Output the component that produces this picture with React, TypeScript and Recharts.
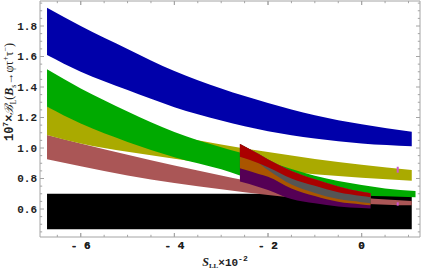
import React from 'react';
import { ComposedChart, Area, XAxis, YAxis, ReferenceLine } from 'recharts';

// ---- data (S_LL x 10^-2 on x, 10^7 x B_L on y) ----
const blueS = [-6.72, -6, -5, -4, -3, -2, -1, 0, 1.07];
const blueHi = [1.92, 1.80, 1.65, 1.505, 1.39, 1.295, 1.215, 1.155, 1.107];
const blueLo = [1.61, 1.50, 1.38, 1.268, 1.18, 1.11, 1.062, 1.03, 1.012];

const greenS = [-6.72, -6, -5, -4, -3, -2.6, -2, -1.5, -1, 0, 0.5, 1.15];
const greenHi = [1.516, 1.39, 1.24, 1.105, 1.005, 0.97, 0.912, 0.862, 0.818, 0.757, 0.735, 0.718];
const greenLo = [1.27, 1.16, 1.04, 0.94, 0.86, 0.82, 0.78, 0.755, 0.73, 0.69, 0.683, 0.677];

const yellowS = [-6.72, -6, -5, -4, -3, -2, -1, 0, 1.07];
const yellowHi = [1.27, 1.205, 1.135, 1.078, 1.023, 0.973, 0.928, 0.89, 0.856];
const yellowLo = [1.085, 1.03, 0.975, 0.93, 0.89, 0.857, 0.828, 0.805, 0.786];

const salmonS = [-6.72, -6, -5, -4, -3, -2, -1, 0, 1.07];
const salmonHi = [1.085, 1.03, 0.955, 0.885, 0.82, 0.76, 0.715, 0.675, 0.652];
const salmonLo = [0.926, 0.88, 0.82, 0.77, 0.73, 0.692, 0.66, 0.635, 0.624];

const blackS = [-6.72, 1.07];
const blackHi = [0.70, 0.70];
const blackLo = [0.467, 0.467];

const smallS = [-2.6, -2.2, -2, -1.5, -1, -0.5, 0, 0.19];
const redHi = [1.026, 0.96, 0.925, 0.85, 0.795, 0.748, 0.713, 0.703];
const redLo = [0.943, 0.90, 0.874, 0.80, 0.752, 0.71, 0.685, 0.677];
const grayLo = [0.943, 0.90, 0.855, 0.76, 0.705, 0.665, 0.645, 0.637];
const orangeLo = [0.867, 0.83, 0.812, 0.735, 0.685, 0.647, 0.63, 0.625];
const purpleLo = [0.78, 0.745, 0.725, 0.665, 0.637, 0.617, 0.607, 0.604];

const markS = [0.77, 0.77];
const markLo = [0.838, 0.622];
const markHi = [0.877, 0.644];

const xMajor = [-6, -4, -2, 0];
const xLabels = ['- 6', '- 4', '- 2', '0'];
const yMajor = [0.6, 0.8, 1.0, 1.2, 1.4, 1.6, 1.8];
const yLabels = ['0.6', '0.8', '1.0', '1.2', '1.4', '1.6', '1.8'];
const xMinor = Array.from({ length: 16 }, (_, i) => Math.round((-6.5 + i * 0.5) * 100) / 100);
const yMinor = Array.from({ length: 31 }, (_, i) => Math.round((0.45 + i * 0.05) * 100) / 100);

const xDomain = [-6.87, 1.246];
const yDomain = [0.4164, 1.964];

const band = (s: number[], lo: number[], hi: number[]) => s.map((v, i) => ({ s: v, r: [lo[i], hi[i]] }));

const FRAME = '#a4a4a4';
const findIdx = (v: number, list: number[]) => list.findIndex((m) => Math.abs(m - v) < 1e-6);

const fontProps = { fontFamily: 'Liberation Mono', fontWeight: 'bold', fontSize: 11, fill: '#222' } as any;

const tickMark = (side: string, withLabel: boolean) => (props: any) => {
  const { x, y, payload } = props;
  const v = payload.value;
  const horiz = side === 'b' || side === 't';
  const idx = findIdx(v, horiz ? xMajor : yMajor);
  const major = idx >= 0;
  const len = major ? 4 : 2.2;
  let x2 = x, y2 = y;
  if (side === 'b') y2 = y - len;
  if (side === 't') y2 = y + len;
  if (side === 'l') x2 = x + len;
  if (side === 'r') x2 = x - len;
  let label = null;
  if (withLabel && major) {
    if (side === 'b') label = <text x={x} y={y + 11.5} textAnchor="middle" {...fontProps}>{xLabels[idx]}</text>;
    if (side === 'l') label = <text x={x - 3} y={y} dy="0.355em" textAnchor="end" {...fontProps}>{yLabels[idx]}</text>;
  }
  return (
    <g>
      <line x1={x} y1={y} x2={x2} y2={y2} stroke={FRAME} strokeWidth={1} />
      {label}
    </g>
  );
};

const YLabel = () => (
  <text transform="translate(13,92) rotate(-90)" x={0} y={0} textAnchor="middle" fontSize={12} fill="#222" fontFamily="Liberation Serif">
    <tspan fontFamily="Liberation Mono" fontWeight="bold">10</tspan>
    <tspan fontSize={8} dy={-5} fontFamily="Liberation Mono" fontWeight="bold">7</tspan>
    <tspan dy={5} fontFamily="Liberation Mono" fontWeight="bold">×</tspan>
    <tspan fontStyle="italic" fontFamily="DejaVu Serif">ℬ</tspan>
    <tspan fontSize={8} dy={3}>L</tspan>
    <tspan dy={-3}>(</tspan>
    <tspan fontStyle="italic" fontWeight="bold">B</tspan>
    <tspan fontSize={8} dy={3}>s</tspan>
    <tspan dy={-3}>→φτ</tspan>
    <tspan fontSize={8} dy={-5}>+</tspan>
    <tspan dy={5}>τ</tspan>
    <tspan fontSize={8} dy={-5}>−</tspan>
    <tspan dy={5}>)</tspan>
  </text>
);

const XLabel = () => (
  <text x={225} y={266} textAnchor="middle" fontSize={12} fill="#222" fontFamily="Liberation Serif">
    <tspan fontStyle="italic" fontWeight="bold">S</tspan>
    <tspan fontSize={7} dy={2} fontWeight="bold">LL</tspan>
    <tspan dy={-2} fontFamily="Liberation Mono" fontWeight="bold" fontSize={11}>×10</tspan>
    <tspan fontSize={8} dy={-5} fontFamily="Liberation Mono" fontWeight="bold">-2</tspan>
  </text>
);

export default function App() {
  const areas = [
    { key: 'black', data: band(blackS, blackLo, blackHi), color: '#000000', type: 'linear', xa: 'xt', ya: 'yr' },
    { key: 'salmon', data: band(salmonS, salmonLo, salmonHi), color: '#aa5656', type: 'monotone', xa: 0, ya: 0 },
    { key: 'yellow', data: band(yellowS, yellowLo, yellowHi), color: '#aaaa00', type: 'monotone', xa: 0, ya: 0 },
    { key: 'green', data: band(greenS, greenLo, greenHi), color: '#00aa00', type: 'monotone', xa: 0, ya: 0 },
    { key: 'blue', data: band(blueS, blueLo, blueHi), color: '#0000aa', type: 'monotone', xa: 0, ya: 0 },
    { key: 'purple', data: band(smallS, purpleLo, redHi), color: '#550055', type: 'monotone', xa: 0, ya: 0 },
    { key: 'orange', data: band(smallS, orangeLo, redHi), color: '#aa5500', type: 'monotone', xa: 0, ya: 0 },
    { key: 'gray', data: band(smallS, grayLo, redHi), color: '#555555', type: 'monotone', xa: 0, ya: 0 },
    { key: 'red', data: band(smallS, redLo, redHi), color: '#aa0000', type: 'monotone', xa: 0, ya: 0 },
  ];
  const xAll = xMinor.concat(xMajor).sort((a, b) => a - b);
  return (
    <div style={{ position: 'absolute', left: 0, top: 0, background: '#fff' }}>
      <ComposedChart width={424} height={272} margin={{ top: 0, right: 0, bottom: 0, left: 0 }}>
        <XAxis
          xAxisId={0}
          type="number"
          dataKey="s"
          domain={xDomain}
          allowDataOverflow
          ticks={xAll}
          interval={0}
          tickLine={false}
          tickSize={0}
          tickMargin={0}
          axisLine={{ stroke: FRAME }}
          height={35}
          tick={tickMark('b', true)}
          label={{ content: () => <XLabel /> }}
        />
        <XAxis xAxisId="xt" type="number" dataKey="s" domain={xDomain} allowDataOverflow orientation="top"
          ticks={xAll} interval={0} tickLine={false} tickSize={0} tickMargin={0} axisLine={{ stroke: FRAME }} height={1}
          tick={tickMark('t', false)} />
        <YAxis
          yAxisId={0}
          type="number"
          domain={yDomain}
          allowDataOverflow
          ticks={yMinor}
          interval={0}
          tickLine={false}
          tickSize={0}
          tickMargin={0}
          axisLine={{ stroke: FRAME }}
          width={40}
          tick={tickMark('l', true)}
          label={{ content: () => <YLabel /> }}
        />
        <YAxis yAxisId="yr" type="number" domain={yDomain} allowDataOverflow orientation="right"
          ticks={yMinor} interval={0} tickLine={false} tickSize={0} tickMargin={0} axisLine={{ stroke: FRAME }} width={4}
          tick={tickMark('r', false)} />
        {areas.map((a) => (
          <Area
            key={a.key}
            xAxisId={a.xa}
            yAxisId={a.ya}
            data={a.data}
            dataKey="r"
            type={a.type as any}
            stroke="none"
            fill={a.color}
            fillOpacity={1}
            isAnimationActive={false}
            dot={false}
            activeDot={false}
          />
        ))}
        {markS.map((s, i) => (
          <ReferenceLine
            key={'m' + i}
            segment={[{ x: s, y: markLo[i] }, { x: s, y: markHi[i] }]}
            stroke="#cc55cc"
            strokeWidth={2}
          />
        ))}
      </ComposedChart>
    </div>
  );
}
